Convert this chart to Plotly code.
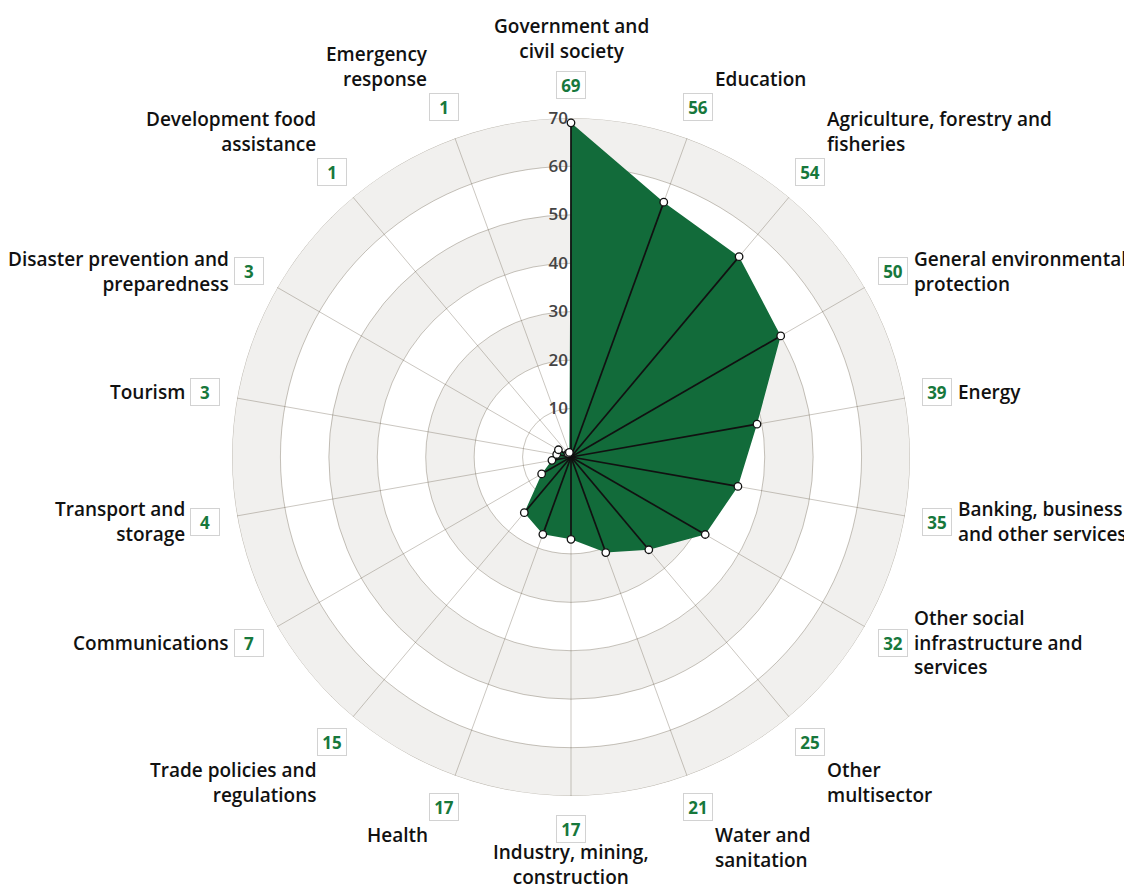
import math
import plotly.graph_objects as go

# ---------------- data ----------------
categories = [
    "Government and<br>civil society",
    "Education",
    "Agriculture, forestry and<br>fisheries",
    "General environmental<br>protection",
    "Energy",
    "Banking, business<br>and other services",
    "Other social<br>infrastructure and<br>services",
    "Other<br>multisector",
    "Water and<br>sanitation",
    "Industry, mining,<br>construction",
    "Health",
    "Trade policies and<br>regulations",
    "Communications",
    "Transport and<br>storage",
    "Tourism",
    "Disaster prevention and<br>preparedness",
    "Development food<br>assistance",
    "Emergency<br>response",
]
values = [69, 56, 54, 50, 39, 35, 32, 25, 21, 17, 17, 15, 7, 4, 3, 3, 1, 1]
radial_ticks = [10, 20, 30, 40, 50, 60, 70]
band_bases = [60, 40, 20]

# ---------------- style / geometry ----------------
# page body adds an 8px margin, so lay out on a slightly smaller canvas
W, H = 1124, 883
CX, CY, RPX = 563, 449, 339
RMAX = 70
R_BOX = 76.8
GREEN = "#126b3a"
NUM_GREEN = "#17783c"
GRID = "#cbc7c1"
FONT = "Open Sans"

n = len(categories)
thetas = [i * 360.0 / n for i in range(n)]


def to_paper(r, th):
    rad = r / RMAX * RPX
    x = CX + rad * math.sin(math.radians(th))
    y = CY - rad * math.cos(math.radians(th))
    return x / W, 1 - y / H


fig = go.Figure()

# alternating grey bands
fig.add_trace(go.Barpolar(
    r=[10] * len(band_bases), base=band_bases, theta=[0] * len(band_bases),
    width=[360] * len(band_bases),
    marker=dict(color="rgba(130,122,97,0.11)", line=dict(width=0)),
    hoverinfo="skip", showlegend=False,
))

# green filled area
fig.add_trace(go.Scatterpolar(
    r=values + [values[0]], theta=thetas + [thetas[0]],
    mode="lines", fill="toself", fillcolor=GREEN,
    line=dict(width=0, color=GREEN), hoverinfo="skip", showlegend=False,
))

# ring lines (drawn above the fill)
fig.add_trace(go.Barpolar(
    r=radial_ticks, base=[0] * len(radial_ticks), theta=[0] * len(radial_ticks),
    width=[360] * len(radial_ticks),
    marker=dict(color="rgba(0,0,0,0)", line=dict(width=1, color="rgba(72,58,38,0.30)")),
    hoverinfo="skip", showlegend=False,
))

# spoke extensions to value boxes
ext_r, ext_t = [], []
for th in thetas:
    ext_r += [RMAX, R_BOX, None]
    ext_t += [th, th, None]
fig.add_trace(go.Scatterpolar(
    r=ext_r, theta=ext_t, mode="lines", line=dict(color=GRID, width=1),
    cliponaxis=False, hoverinfo="skip", showlegend=False,
))

# black spokes from centre to each point
sp_r, sp_t = [], []
for v, th in zip(values, thetas):
    sp_r += [0, v, None]
    sp_t += [th, th, None]
fig.add_trace(go.Scatterpolar(
    r=sp_r, theta=sp_t, mode="lines", line=dict(color="#111111", width=1.7),
    hoverinfo="skip", showlegend=False,
))

# markers
fig.add_trace(go.Scatterpolar(
    r=values, theta=thetas, mode="markers",
    marker=dict(size=7.5, color="white", line=dict(color="#111111", width=1.3)),
    cliponaxis=False, showlegend=False,
))

# value boxes + category labels
annotations = []
for cat, v, th in zip(categories, values, thetas):
    px, py = to_paper(R_BOX, th)
    annotations.append(dict(
        x=px, y=py, xref="paper", yref="paper", text=f"<b>{v}</b>",
        showarrow=False, font=dict(family=FONT, size=17, color=NUM_GREEN),
        bgcolor="white", bordercolor="#d2d2d2", borderwidth=1, borderpad=2,
        width=24, height=22, xanchor="center", yanchor="middle",
    ))
    if th == 0:
        dx, dy, xa, ya, al = 0, -19, "center", "bottom", "center"
    elif th < 50:
        dx, dy, xa, ya, al = 15, -13, "left", "bottom", "left"
    elif th <= 130:
        dx, dy, xa, ya, al = 19, 0, "left", "middle", "left"
    elif th < 180:
        dx, dy, xa, ya, al = 15, 13, "left", "top", "left"
    elif th == 180:
        dx, dy, xa, ya, al = 0, 8, "center", "top", "center"
    elif th < 230:
        dx, dy, xa, ya, al = -14, 13, "right", "top", "right"
    elif th <= 310:
        dx, dy, xa, ya, al = -18, 0, "right", "middle", "right"
    else:
        dx, dy, xa, ya, al = -14, -13, "right", "bottom", "right"
    annotations.append(dict(
        x=px, y=py, xref="paper", yref="paper", text=cat, showarrow=False,
        xshift=dx, yshift=-dy, xanchor=xa, yanchor=ya, align=al,
        font=dict(family=FONT, size=19, color="#111111", weight=600),
    ))

fig.update_layout(
    width=W, height=H,
    margin=dict(l=0, r=0, t=0, b=0),
    paper_bgcolor="white",
    showlegend=False,
    annotations=annotations,
    polar=dict(
        domain=dict(x=[(CX - RPX) / W, (CX + RPX) / W],
                    y=[1 - (CY + RPX) / H, 1 - (CY - RPX) / H]),
        bgcolor="white",
        barmode="overlay",
        angularaxis=dict(
            type="linear", thetaunit="degrees", rotation=90, direction="clockwise",
            tickvals=thetas, showticklabels=False, ticks="",
            showgrid=True, gridcolor=GRID, gridwidth=1, showline=False,
        ),
        radialaxis=dict(
            range=[0, RMAX], tickvals=radial_ticks, showgrid=False, showline=False,
            ticks="", angle=90, side="counterclockwise", tickangle=90,
            tickfont=dict(family=FONT, size=17, color="#444444", weight=600),
            layer="above traces",
        ),
    ),
)

fig.write_html("out.html")
